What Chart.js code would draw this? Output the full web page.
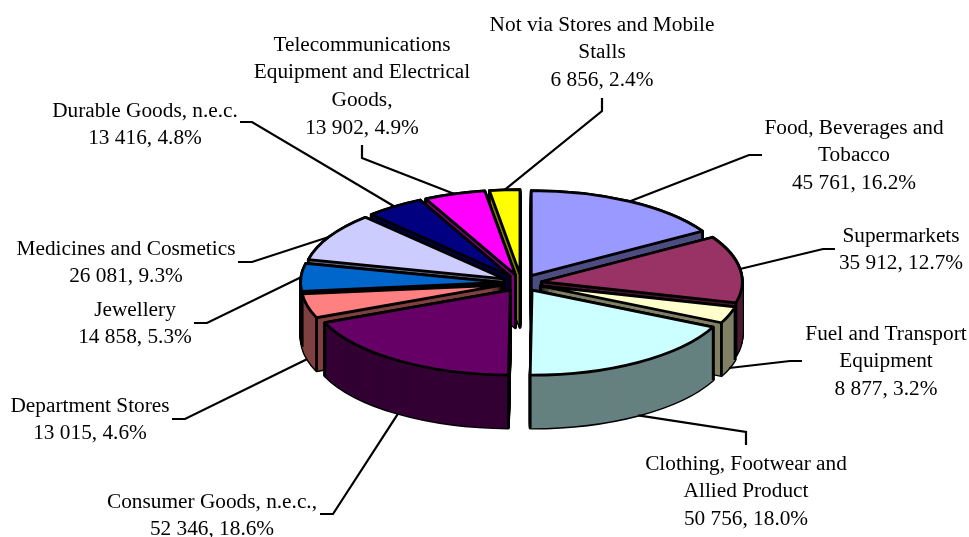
<!DOCTYPE html>
<html>
<head>
<meta charset="utf-8">
<style>
  html, body { margin: 0; padding: 0; background: #fff; }
  #wrap { width: 969px; height: 537px; }
</style>
<script src="https://cdn.jsdelivr.net/npm/chart.js@4/dist/chart.umd.min.js"></script>
</head>
<body>
<div id="wrap"><canvas id="pie" width="969" height="537"></canvas></div>
<script>
// Retail turnover by store type
const categories = [
  "Food, Beverages and\nTobacco",
  "Supermarkets",
  "Fuel and Transport\nEquipment",
  "Clothing, Footwear and\nAllied Product",
  "Consumer Goods, n.e.c.,",
  "Department Stores",
  "Jewellery",
  "Medicines and Cosmetics",
  "Durable Goods, n.e.c.",
  "Telecommunications\nEquipment and Electrical\nGoods,",
  "Not via Stores and Mobile\nStalls"
];
const turnover = [45761, 35912, 8877, 50756, 52346, 13015, 14858, 26081, 13416, 13902, 6856];
const percents = ["16.2", "12.7", "3.2", "18.0", "18.6", "4.6", "5.3", "9.3", "4.8", "4.9", "2.4"];
const faceColors = ["#9999FF", "#993366", "#FFFFCC", "#CCFFFF", "#660066", "#FF8080", "#0066CC", "#CCCCFF", "#000080", "#FF00FF", "#FFFF00"];
const wallColors = ["#4D4D80", "#4D1A33", "#808066", "#668080", "#330033", "#804040", "#003366", "#666680", "#000040", "#800080", "#808000"];

// Callout placement: text centre, first line's middle, and the leader's outer points.
const callouts = [
  { x: 854, y: 128, leader: [[762, 155], [749, 155]] },
  { x: 901, y: 236, leader: [[835, 249], [823, 249]] },
  { x: 886, y: 334, leader: [[802, 361], [790, 361]] },
  { x: 746, y: 464, leader: [[746, 445], [746, 432]] },
  { x: 212, y: 502, leader: [[320, 514], [333, 514]] },
  { x: 90,  y: 406, leader: [[172, 419], [185, 419]] },
  { x: 135, y: 310, leader: [[194, 323], [207, 323]] },
  { x: 126, y: 249, leader: [[238, 262], [252, 262]] },
  { x: 145, y: 111, leader: [[240, 122], [252, 122]] },
  { x: 362, y: 45,  leader: [[362, 145], [362, 158]] },
  { x: 602, y: 25,  leader: [[602, 98], [602, 111]] }
];

const TILT = 0.423;     // vertical squash of the disc
const DEPTH = 53;       // wall height in pixels
const EXPLODE = 20;     // radial separation of the slices
const OUTLINE = 2.8;

const fmtThousands = n => String(n).replace(/\B(?=(\d{3})+$)/g, " ");

// Places the canvas so that the disc is squashed and each slice pushed out along its mid-angle.
function tiltAt(ctx, arc, lift) {
  const p = arc.getProps(["x", "y", "startAngle", "endAngle"], true);
  const mid = (p.startAngle + p.endAngle) / 2;
  ctx.translate(p.x + Math.cos(mid) * EXPLODE, p.y + Math.sin(mid) * EXPLODE * TILT + lift);
  ctx.scale(1, TILT);
  ctx.translate(-p.x, -p.y);
}

function traceSlice(ctx, arc, lift) {
  const p = arc.getProps(["x", "y", "startAngle", "endAngle", "outerRadius"], true);
  ctx.save();
  tiltAt(ctx, arc, lift);
  ctx.beginPath();
  ctx.moveTo(p.x, p.y);
  ctx.arc(p.x, p.y, p.outerRadius, p.startAngle, p.endAngle);
  ctx.closePath();
  ctx.restore();
}

// Screen position of a point on the slice rim at the given angle.
function rimPoint(arc, angle, lift) {
  const p = arc.getProps(["x", "y", "startAngle", "endAngle", "outerRadius"], true);
  const mid = (p.startAngle + p.endAngle) / 2;
  return {
    x: p.x + Math.cos(mid) * EXPLODE + Math.cos(angle) * p.outerRadius,
    y: p.y + (Math.sin(mid) * EXPLODE + Math.sin(angle) * p.outerRadius) * TILT + lift
  };
}

function drawSolid(ctx, arc, index) {
  const p = arc.getProps(["x", "y", "startAngle", "endAngle", "outerRadius"], true);
  const base = arc.options;
  const mid = (p.startAngle + p.endAngle) / 2;
  ctx.lineJoin = "round";
  ctx.lineWidth = OUTLINE;
  ctx.strokeStyle = "#000";

  // Black silhouette of the whole extrusion.
  for (let d = DEPTH; d >= 0; d--) {
    traceSlice(ctx, arc, d);
    ctx.stroke();
  }

  // Walls: the arc element painted repeatedly in its darker colour.
  arc.options = Object.assign({}, base, { backgroundColor: wallColors[index] });
  for (let d = DEPTH; d >= 1; d--) {
    ctx.save();
    tiltAt(ctx, arc, d);
    arc.draw(ctx);
    ctx.restore();
  }
  arc.options = base;

  // Vertical edges between the visible wall faces.
  const startShows = Math.cos(p.startAngle) < 0 || Math.sin(p.startAngle) > 0;
  const endShows = Math.cos(p.endAngle) > 0 || Math.sin(p.endAngle) > 0;
  const vertical = pt => {
    ctx.beginPath();
    ctx.moveTo(pt.x, pt.y);
    ctx.lineTo(pt.x, pt.y + DEPTH);
    ctx.stroke();
  };
  if (startShows) vertical(rimPoint(arc, p.startAngle, 0));
  if (endShows) vertical(rimPoint(arc, p.endAngle, 0));
  vertical({
    x: p.x + Math.cos(mid) * EXPLODE,
    y: p.y + Math.sin(mid) * EXPLODE * TILT
  });

  // Top face.
  ctx.save();
  tiltAt(ctx, arc, 0);
  arc.draw(ctx);
  ctx.restore();
  traceSlice(ctx, arc, 0);
  ctx.stroke();
}

const pie3d = {
  id: "pie3d",
  beforeDatasetsDraw(chart) {
    const ctx = chart.ctx;
    const arcs = chart.getDatasetMeta(0).data;
    const order = arcs.map((arc, i) => {
      const p = arc.getProps(["startAngle", "endAngle"], true);
      return { arc, i, depth: Math.sin((p.startAngle + p.endAngle) / 2) };
    }).sort((a, b) => a.depth - b.depth);
    order.forEach(o => drawSolid(ctx, o.arc, o.i));
    return false;
  },
  afterDraw(chart) {
    const ctx = chart.ctx;
    const arcs = chart.getDatasetMeta(0).data;
    ctx.save();
    arcs.forEach((arc, i) => {
      const c = callouts[i];
      const p = arc.getProps(["startAngle", "endAngle"], true);
      const mid = (p.startAngle + p.endAngle) / 2;
      const end = rimPoint(arc, mid, Math.sin(mid) > 0 ? DEPTH : 0);
      ctx.strokeStyle = "#000";
      ctx.lineWidth = 2.2;
      ctx.lineJoin = "miter";
      ctx.beginPath();
      ctx.moveTo(c.leader[0][0], c.leader[0][1]);
      ctx.lineTo(c.leader[1][0], c.leader[1][1]);
      ctx.lineTo(end.x, end.y);
      ctx.stroke();

      ctx.fillStyle = "#000";
      ctx.font = "21.3px 'Liberation Serif', 'Times New Roman', serif";
      ctx.textAlign = "center";
      ctx.textBaseline = "middle";
      const lines = categories[i].split("\n");
      lines.push(fmtThousands(turnover[i]) + ", " + percents[i] + "%");
      lines.forEach((line, n) => ctx.fillText(line, c.x, c.y + n * 27.7));
    });
    ctx.restore();
  }
};

new Chart(document.getElementById("pie"), {
  type: "pie",
  data: {
    labels: categories,
    datasets: [{ data: turnover, backgroundColor: faceColors, borderWidth: 0 }]
  },
  options: {
    responsive: false,
    animation: false,
    events: [],
    layout: { padding: { left: 74, right: 0, top: 82, bottom: 53 } },
    plugins: { legend: { display: false }, tooltip: { enabled: false }, title: { display: false } }
  },
  plugins: [pie3d]
});
</script>
</body>
</html>
